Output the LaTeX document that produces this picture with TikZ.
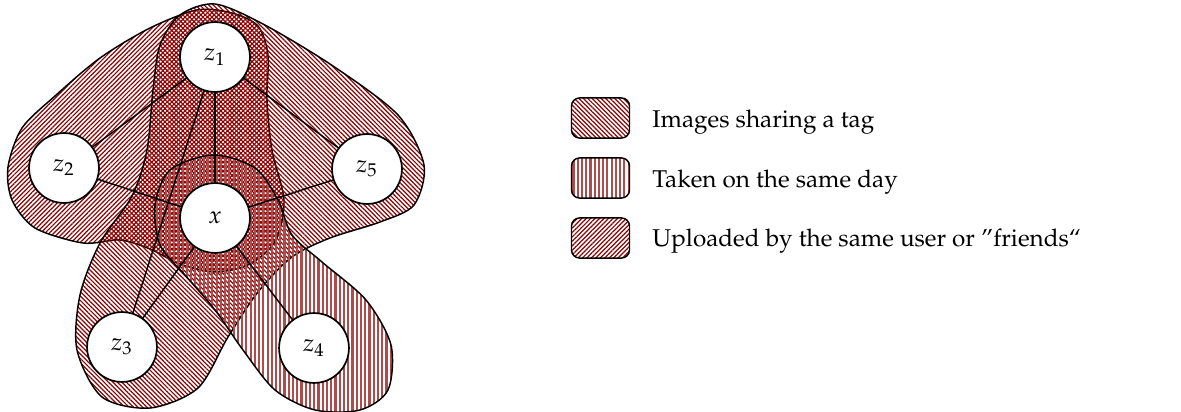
\documentclass[tikz,border=0pt]{standalone}
\usepackage[T1]{fontenc}
\usepackage{mathpazo}
\usetikzlibrary{patterns.meta}
\definecolor{hatch}{RGB}{139,0,0}
\tikzset{
  hyper/.style={draw=black, line width=0.6pt},
  tagpat/.style={pattern={Lines[angle=-45,distance=1.3pt,line width=0.5pt]}, pattern color=hatch},
  userpat/.style={pattern={Lines[angle=45,distance=1.3pt,line width=0.5pt]}, pattern color=hatch},
  daypat/.style={pattern={Lines[angle=90,distance=1.75pt,line width=0.9pt]}, pattern color=hatch!70},
  vert/.style={circle, draw=black, fill=white, line width=0.7pt, minimum size=28.8pt, inner sep=0pt},
  link/.style={draw=black, line width=0.6pt},
  legbox/.style={draw=black, line width=0.6pt, rounded corners=3.3pt, minimum width=23.9pt, minimum height=16.5pt, inner sep=0pt},
  legtext/.style={anchor=base west, inner sep=0pt}
}
\begin{document}
\begin{tikzpicture}[x=0.412pt,y=-0.412pt]
\useasboundingbox (0,0) rectangle (1181,412);
% user hyperedge {z2,z1,x}
\path[hyper, userpat] plot[smooth cycle] coordinates {
 (197,10) (232,13) (258,26) (268,55) (267,100) (272,150) (284,200) (276,240) (250,264) (215,272) (180,264) (150,249) (120,240) (83,243) (35,228) (12,200) (8,167) (22,128) (55,96) (100,58) (150,28)};
% tag hyperedge {z1,z5,x,z3}
\path[hyper, tagpat] plot[smooth cycle] coordinates {
 (215,4) (263,24) (333,66) (398,115) (424,165) (414,205) (380,222) (330,238) (292,257) (258,292) (228,337) (198,388) (150,408) (102,397) (77,350) (80,295) (100,243) (132,196) (147,150) (153,90) (160,45) (180,15)};
% day hyperedge {x,z4}
\path[hyper, daypat] plot[smooth cycle] coordinates {
 (213,155) (255,168) (278,200) (292,235) (322,262) (366,300) (391,345) (388,390) (360,410) (315,410) (275,390) (243,350) (215,310) (185,275) (160,245) (155,205) (170,170)};
% vertices
\node[vert] (z1) at (215,57) {$z_1$};
\node[vert] (z2) at (64,168) {$z_2$};
\node[vert] (z5) at (367,169) {$z_5$};
\node[vert] (x) at (215,218) {$x$};
\node[vert] (z3) at (122,347) {$z_3$};
\node[vert] (z4) at (314,348) {$z_4$};
% links
\draw[link] (z1) -- (z2);
\draw[link] (z1) -- (z5);
\draw[link] (z1) -- (x);
\draw[link] (z1) -- (z3);
\draw[link] (z2) -- (x);
\draw[link] (z5) -- (x);
\draw[link] (x) -- (z3);
\draw[link] (x) -- (z4);
% legend
\node[legbox, tagpat] (l1) at (600.5,118) {};
\node[legbox, daypat] (l2) at (600.5,178) {};
\node[legbox, userpat] (l3) at (600.5,238) {};
\node[legtext] (t1) at (652,128) {Images sharing a tag};
\node[legtext] (t2) at (652,188) {Taken on the same day};
\node[legtext] (t3) at (652,247) {Uploaded by the same user or \textquotedblright friends\textquotedblleft};
\end{tikzpicture}
\end{document}
